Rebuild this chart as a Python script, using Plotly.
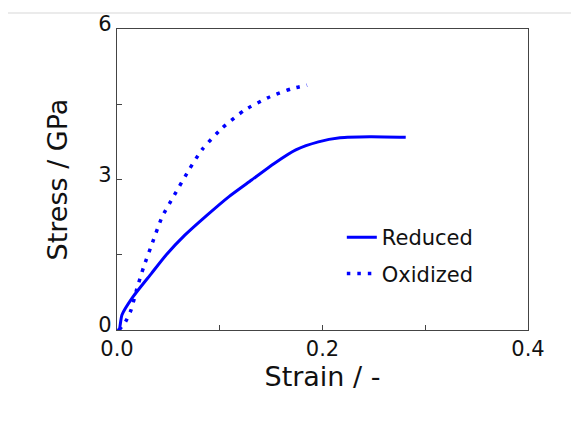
import plotly.graph_objects as go

reduced_strain = [0.0, 0.002, 0.0048, 0.0155, 0.0336, 0.048, 0.066, 0.0877, 0.109, 0.131, 0.153, 0.174, 0.196, 0.217, 0.246, 0.281]
reduced_stress = [0.0, 0.0, 0.30, 0.66, 1.13, 1.50, 1.89, 2.29, 2.66, 2.99, 3.32, 3.59, 3.75, 3.83, 3.85, 3.84]

oxidized_strain = [0.002, 0.0084, 0.0137, 0.019, 0.026, 0.0336, 0.044, 0.055, 0.070, 0.0826, 0.102, 0.124, 0.149, 0.170, 0.185]
oxidized_stress = [0.0, 0.17, 0.40, 0.80, 1.26, 1.69, 2.26, 2.66, 3.19, 3.59, 4.02, 4.38, 4.65, 4.81, 4.88]

x_tickvals = [0.0, 0.1, 0.2, 0.3, 0.4]
x_ticktext = ["0.0", "", "0.2", "", "0.4"]
y_tickvals = [0, 1.5, 3, 4.5, 6]
y_ticktext = ["0", "", "3", "", "6"]

BLUE = "#0000ff"
FONT = "DejaVu Sans"

fig = go.Figure()
fig.add_trace(go.Scatter(x=reduced_strain, y=reduced_stress, mode="lines", name="Reduced",
                         legendgroup="r", line=dict(color=BLUE, width=3, shape="spline", smoothing=0.6)))
fig.add_trace(go.Scatter(x=oxidized_strain, y=oxidized_stress, mode="lines", name="Oxidized",
                         legendgroup="o", line=dict(color=BLUE, width=3.5, dash="3.5px,7px",
                                                    shape="spline", smoothing=0.6)))

axis_common = dict(showgrid=False, zeroline=False, showline=True, linecolor="#444444", linewidth=1.2,
                   mirror=True, ticks="inside", ticklen=5, tickcolor="#444444", tickwidth=1,
                   automargin=False,
                   tickfont=dict(family=FONT, size=21, color="#111111"))

fig.update_layout(
    width=579, height=421,
    margin=dict(l=109, r=59, t=21, b=99, autoexpand=False),
    paper_bgcolor="white", plot_bgcolor="white",
    font=dict(family=FONT, color="#111111"),
    showlegend=True,
    legend=dict(x=0.547, y=0.375, xanchor="left", yanchor="top", bgcolor="rgba(0,0,0,0)",
                font=dict(family=FONT, size=21, color="#111111"), tracegroupgap=6,
                itemwidth=30),
    xaxis=dict(range=[0, 0.4], tickvals=x_tickvals, ticktext=x_ticktext,
               title=dict(text="Strain / -", font=dict(family=FONT, size=27, color="#111111"), standoff=4),
               **axis_common),
    yaxis=dict(range=[0, 6], tickvals=y_tickvals, ticktext=y_ticktext, ticklabelshift=-5,
               title=dict(text="Stress / GPa", font=dict(family=FONT, size=27, color="#111111"), standoff=22),
               **axis_common),
)

# thin light-gray rule near the top of the image
fig.add_shape(type="line", xref="paper", yref="paper",
              x0=(-1 - 109) / 411, x1=(579 - 109) / 411,
              y0=(322 - 5) / 301, y1=(322 - 5) / 301,
              line=dict(color="#e4e4e4", width=1.5))

fig.write_html("out.html")
